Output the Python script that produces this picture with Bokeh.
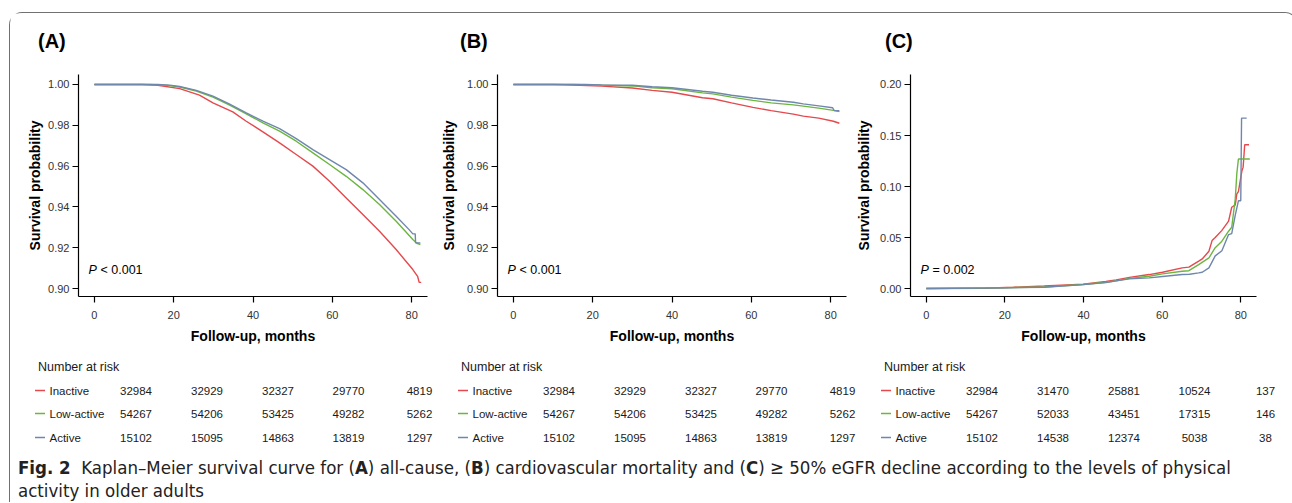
from bokeh.plotting import figure
from bokeh.models import Label, Range1d, Div, FixedTicker, PrintfTickFormatter
from bokeh.layouts import row, column
from bokeh.embed import file_html
from bokeh.resources import INLINE
from bokeh.core.properties import value

# ---------------- data ----------------
groups = ["Inactive", "Low-active", "Active"]
group_colors = ["#E5484D", "#6CB640", "#6F87AD"]
x_ticks = [0, 20, 40, 60, 80]

# Panel A: all-cause mortality (survival probability)
tA_inactive = [0, 12, 16, 21.5, 26.5, 29.9, 34.9, 38.3, 42.5, 46.7, 50.9, 55.1, 59.3, 63.5, 67.7, 71.9, 76.1, 80.3, 81.5, 81.9, 82.4]
sA_inactive = [1.0, 1.0, 0.9996, 0.998, 0.9948, 0.991, 0.9866, 0.982, 0.9768, 0.9714, 0.9657, 0.960, 0.9526, 0.9444, 0.9363, 0.9281, 0.9191, 0.9093, 0.906, 0.903, 0.903]
tA_low = [0, 14, 18, 21.5, 25.7, 29.9, 34.0, 38.3, 42.5, 46.7, 50.9, 55.1, 59.3, 63.5, 67.7, 71.9, 76.1, 80.3, 81.3, 82.2]
sA_low = [1.0, 1.0, 0.9997, 0.9988, 0.9968, 0.9938, 0.990, 0.9856, 0.9812, 0.9771, 0.9722, 0.9665, 0.9608, 0.955, 0.9485, 0.9412, 0.933, 0.924, 0.9222, 0.9216]
tA_active = [0, 16, 19, 21.5, 25.7, 29.9, 34.0, 38.3, 42.5, 46.7, 50.9, 55.1, 59.3, 63.5, 67.7, 71.9, 76.1, 79.3, 80.3, 80.9, 81.0, 82.2]
sA_active = [1.0, 1.0, 0.9997, 0.999, 0.9971, 0.9943, 0.9905, 0.9861, 0.982, 0.9784, 0.9735, 0.9681, 0.9632, 0.9583, 0.9518, 0.9436, 0.9354, 0.929, 0.9268, 0.9268, 0.9224, 0.9224]

# Panel B: cardiovascular mortality (survival probability)
tB_inactive = [0, 10, 13, 22.3, 30, 35, 40, 47.7, 50.3, 55, 60.4, 65, 70.6, 73.1, 77, 80.7, 82.2]
sB_inactive = [1.0, 1.0, 0.9999, 0.9992, 0.9983, 0.9971, 0.9962, 0.9935, 0.993, 0.991, 0.9888, 0.9872, 0.9855, 0.9845, 0.9835, 0.982, 0.981]
tB_low = [0, 15, 22.3, 30, 35, 40, 47.7, 50.3, 55, 60.4, 65, 70.6, 73.1, 77, 80.7, 82.2]
sB_low = [1.0, 1.0, 0.9997, 0.9993, 0.9984, 0.9979, 0.9959, 0.9954, 0.9938, 0.9922, 0.991, 0.990, 0.9894, 0.9884, 0.9873, 0.9867]
tB_active = [0, 18, 22.3, 30, 35, 40, 47.7, 50.3, 55, 60.4, 65, 70.6, 73.1, 77, 80.5, 80.9, 82.2]
sB_active = [1.0, 1.0, 0.9998, 0.9996, 0.9989, 0.9984, 0.9967, 0.9962, 0.9947, 0.9934, 0.9924, 0.9913, 0.9905, 0.9895, 0.9886, 0.9872, 0.9871]

# Panel C: >= 50% eGFR decline (cumulative proportion)
tC_inactive = [0, 15, 22.2, 30, 39.9, 45.7, 48.3, 51.7, 56.7, 60.1, 65.1, 66.8, 69.3, 70.2, 71.9, 72.7, 73.5, 75.2, 76.9, 77.7, 78.6, 79.0, 79.4, 80.3, 80.6, 81.0, 82.1]
cC_inactive = [0.0, 0.0003, 0.0013, 0.0025, 0.0042, 0.0069, 0.0085, 0.011, 0.0137, 0.016, 0.0203, 0.021, 0.0268, 0.029, 0.0366, 0.047, 0.050, 0.057, 0.066, 0.0797, 0.082, 0.0928, 0.095, 0.1155, 0.119, 0.141, 0.141]
tC_low = [0, 20, 30, 39.9, 45.7, 48.3, 51.7, 56.7, 60.1, 65.1, 66.8, 69.3, 71.9, 73.5, 75.2, 76.9, 77.7, 78.6, 79.0, 79.4, 82.3]
cC_low = [0.0, 0.0008, 0.0015, 0.004, 0.0062, 0.0075, 0.010, 0.0121, 0.0144, 0.017, 0.0175, 0.0235, 0.030, 0.040, 0.0464, 0.0562, 0.0601, 0.088, 0.113, 0.127, 0.127]
tC_active = [0, 20, 30, 39.9, 45.7, 48.3, 51.7, 56.7, 60.1, 65.1, 67.0, 69.3, 70.2, 71.9, 73.5, 75.2, 76.9, 77.7, 78.6, 79.4, 80.0, 80.2, 81.5]
cC_active = [0.0, 0.0007, 0.0013, 0.0038, 0.0058, 0.0075, 0.0095, 0.0105, 0.0118, 0.0137, 0.014, 0.0154, 0.016, 0.0203, 0.032, 0.037, 0.0529, 0.0539, 0.072, 0.086, 0.086, 0.167, 0.167]

# Number at risk tables
risk_A = [[32984, 32929, 32327, 29770, 4819],
          [54267, 54206, 53425, 49282, 5262],
          [15102, 15095, 14863, 13819, 1297]]
risk_B = [[32984, 32929, 32327, 29770, 4819],
          [54267, 54206, 53425, 49282, 5262],
          [15102, 15095, 14863, 13819, 1297]]
risk_C = [[32984, 31470, 25881, 10524, 137],
          [54267, 52033, 43451, 17315, 146],
          [15102, 14538, 12374, 5038, 38]]

p_texts = ["< 0.001", "< 0.001", "= 0.002"]
panel_letters = ["(A)", "(B)", "(C)"]

# ---------------- layout constants (page pixels) ----------------
FONT = "Liberation Sans"
OX, OY = 10.5, 13          # page position of layout origin (inside frame border)
HEAD_H = 42
KM_TOP = OY + HEAD_H       # 55
FRAME_TOP, FRAME_BOTTOM = 74, 296
KM_BOTTOM = 350
KM_H = KM_BOTTOM - KM_TOP
FIG_W = [423, 420, 434]
TOTAL_W = sum(FIG_W)


def km_fig(fig_x, fig_w, frame_left, frame_w, yr, yticks, series, ptxt, ystandoff):
    bl = int(round(frame_left - fig_x))
    br = fig_w - bl - frame_w
    p = figure(width=fig_w, height=KM_H, x_range=Range1d(-4, 84), y_range=Range1d(*yr),
               output_backend="svg", toolbar_location=None,
               min_border_left=bl, min_border_right=br,
               min_border_top=FRAME_TOP - KM_TOP, min_border_bottom=KM_BOTTOM - FRAME_BOTTOM)
    p.grid.visible = False
    p.outline_line_color = None
    p.background_fill_color = "white"
    p.border_fill_color = "white"
    for (t, s), c in zip(series, group_colors):
        p.line(t, s, line_color=c, line_width=1.4)
    p.xaxis.ticker = FixedTicker(ticks=x_ticks)
    p.yaxis.ticker = FixedTicker(ticks=yticks)
    p.yaxis.formatter = PrintfTickFormatter(format="%.2f")
    for ax in (p.xaxis[0], p.yaxis[0]):
        ax.axis_line_color = "black"
        ax.axis_line_width = 1.2
        ax.major_tick_line_color = "black"
        ax.major_tick_line_width = 1.2
        ax.major_tick_out = 6
        ax.major_tick_in = 0
        ax.minor_tick_line_color = None
        ax.major_label_text_font = FONT
        ax.major_label_text_font_size = "11px"
        ax.major_label_text_color = "#333333"
        ax.axis_label_text_font = FONT
        ax.axis_label_text_font_size = "14px"
        ax.axis_label_text_font_style = "bold"
        ax.axis_label_text_color = "black"
    p.xaxis.axis_label = "Follow-up, months"
    p.yaxis.axis_label = "Survival probability"
    p.xaxis.major_label_standoff = 8
    p.xaxis.axis_label_standoff = 6
    p.yaxis.major_label_standoff = 3
    p.yaxis.axis_label_standoff = ystandoff
    # p-value (inside the frame)
    p.add_layout(Label(x=10, y=FRAME_BOTTOM - 269, x_units="screen", y_units="screen",
                       text="P", text_font=FONT, text_font_size="12.5px", text_font_style="italic",
                       text_baseline="middle", text_color="black"))
    p.add_layout(Label(x=22, y=FRAME_BOTTOM - 269, x_units="screen", y_units="screen",
                       text=ptxt, text_font=FONT, text_font_size="12.5px",
                       text_baseline="middle", text_color="black"))
    return p


figA = km_fig(OX, FIG_W[0], 79, 349, (0.8961, 1.0049), [0.90, 0.92, 0.94, 0.96, 0.98, 1.00],
              [(tA_inactive, sA_inactive), (tA_low, sA_low), (tA_active, sA_active)],
              p_texts[0], 2)
figB = km_fig(OX + FIG_W[0], FIG_W[1], 497, 349, (0.8961, 1.0049), [0.90, 0.92, 0.94, 0.96, 0.98, 1.00],
              [(tB_inactive, sB_inactive), (tB_low, sB_low), (tB_active, sB_active)],
              p_texts[1], 7)
figC = km_fig(OX + FIG_W[0] + FIG_W[1], FIG_W[2], 907, 349, (-0.0078, 0.2098), [0.00, 0.05, 0.10, 0.15, 0.20],
              [(tC_inactive, cC_inactive), (tC_low, cC_low), (tC_active, cC_active)],
              p_texts[2], 5)


def blank_fig(top, h):
    f = figure(width=TOTAL_W, height=h, x_range=Range1d(OX, OX + TOTAL_W),
               y_range=Range1d(top + h, top), output_backend="svg",
               toolbar_location=None, min_border=0)
    f.axis.visible = False
    f.grid.visible = False
    f.outline_line_color = None
    f.border_fill_color = "white"
    f.background_fill_color = "white"
    return f


# ---------------- panel letters ----------------
head = blank_fig(OY, HEAD_H)
head.text(x=[38, 460, 885], y=[40, 40, 40], text=panel_letters, text_font=value(FONT),
          text_font_size="20px", text_font_style="bold", text_baseline="middle",
          text_align="left", text_color="black")

# ---------------- number-at-risk table ----------------
TAB_H = 98
tab = blank_fig(KM_BOTTOM, TAB_H)
row_y = [390, 413, 437]
header_y = 366
table_offsets = [0, 423, 846]
num_cols = [136, 207, 278, 348.5, 419.5]
for off, risk in zip(table_offsets, [risk_A, risk_B, risk_C]):
    tab.text(x=[38 + off], y=[header_y], text=["Number at risk"], text_font=value(FONT),
             text_font_size="12.5px", text_baseline="middle", text_align="left", text_color="#1a1a1a")
    tab.segment(x0=[35 + off] * 3, x1=[45 + off] * 3, y0=row_y, y1=row_y,
                line_color=group_colors, line_width=1.5)
    tab.text(x=[49.5 + off] * 3, y=row_y, text=groups, text_font=value(FONT),
             text_font_size="11.5px", text_baseline="middle", text_align="left", text_color="#1a1a1a")
    for yy, counts in zip(row_y, risk):
        tab.text(x=[c + off for c in num_cols], y=[yy] * 5, text=[str(n) for n in counts],
                 text_font=value(FONT), text_font_size="11.5px", text_baseline="middle",
                 text_align="center", text_color="#1a1a1a")

# ---------------- caption ----------------
cap_html = ("<b>Fig. 2</b>&nbsp; Kaplan\u2013Meier survival curve for (<b>A</b>) all-cause, "
            "(<b>B</b>) cardiovascular mortality and (<b>C</b>) \u2265 50% eGFR decline according "
            "to the levels of physical<br>activity in older adults")
cap = Div(text=cap_html, width=TOTAL_W, height=44,
          styles={"font-family": "'Liberation Sans Narrow', 'DejaVu Sans Condensed', 'Roboto', sans-serif",
                  "font-size": "18.5px", "line-height": "23px", "color": "#222222",
                  "padding-left": "3px", "padding-top": "3px", "white-space": "nowrap",
                  "box-sizing": "border-box"})

layout = column(head, row(figA, figB, figC, spacing=0), tab, cap, spacing=0,
                styles={"border": "1.5px solid #707070", "border-bottom": "0",
                        "border-radius": "13px 13px 0 0", "margin-top": "11.5px", "margin-left": "9px"})

open("out.html", "w").write(file_html(layout, INLINE))
